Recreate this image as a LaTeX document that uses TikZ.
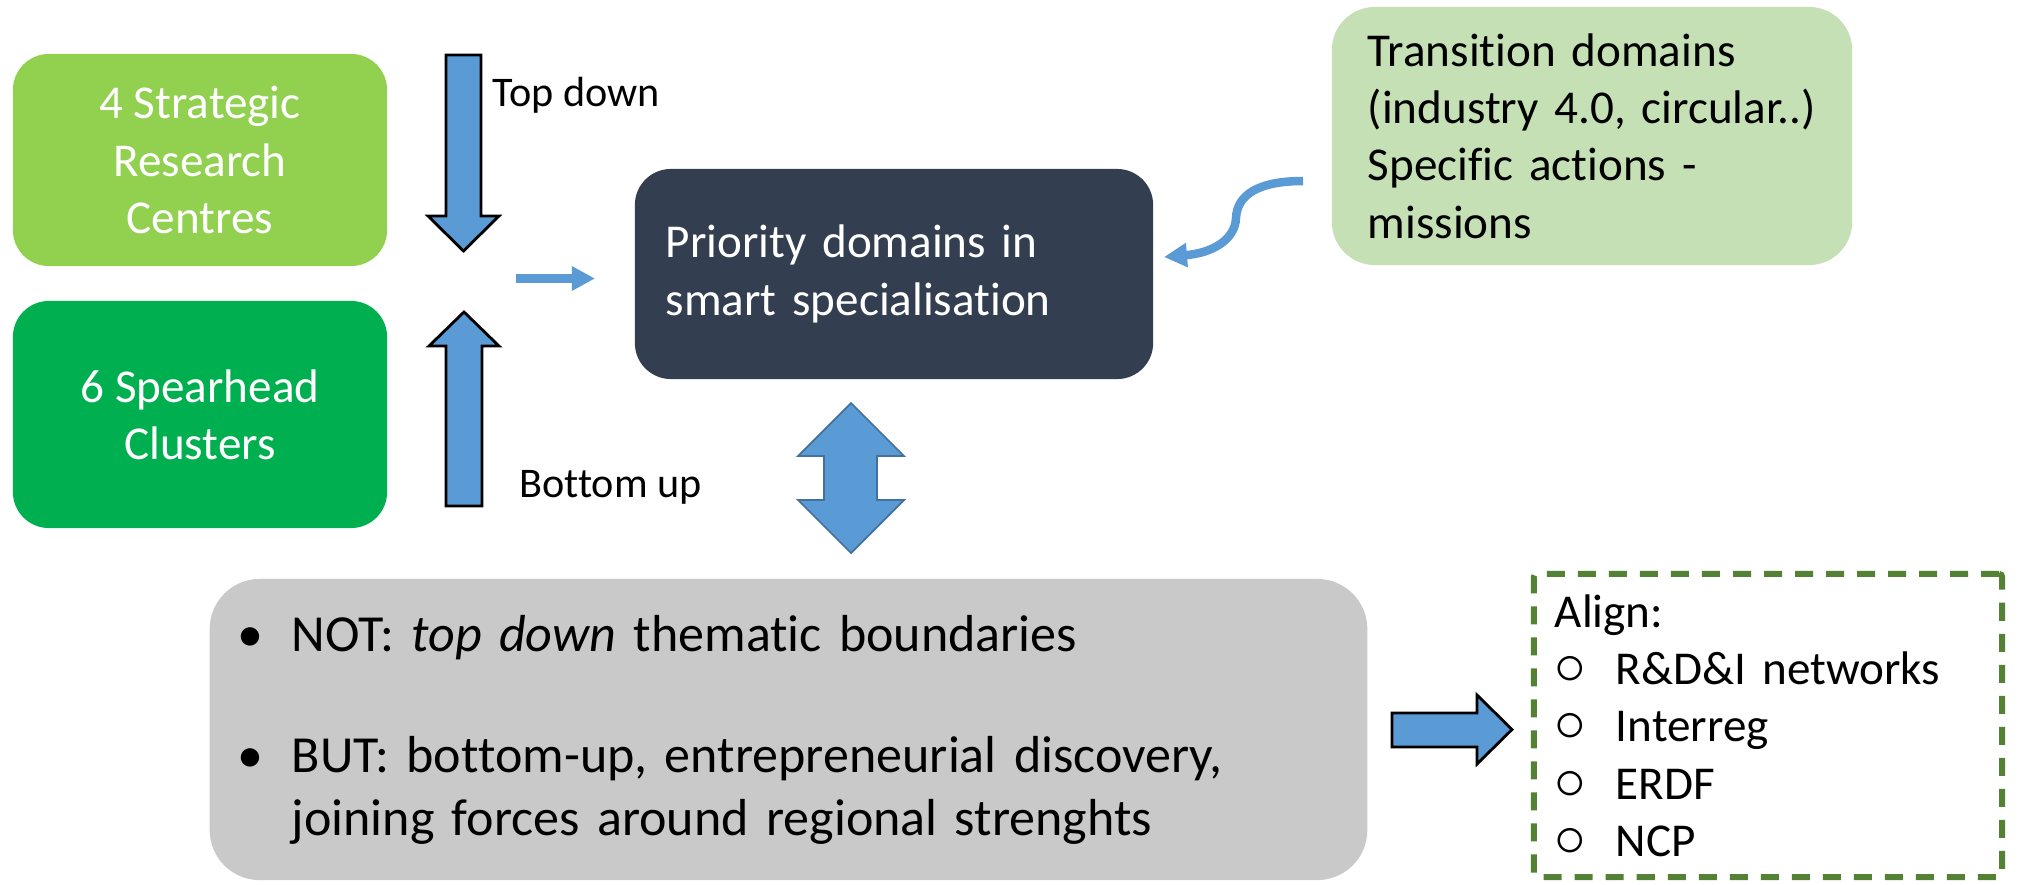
\documentclass[tikz,border=0pt]{standalone}
\usepackage{fontspec}
\setmainfont{Carlito}[Ligatures={NoCommon,NoContextual}]
\usetikzlibrary{arrows.meta}

\definecolor{srcgreen}{RGB}{146,208,80}
\definecolor{clustergreen}{RGB}{0,176,80}
\definecolor{darkslate}{RGB}{51,63,80}
\definecolor{paleleaf}{RGB}{197,224,180}
\definecolor{boxgray}{RGB}{201,201,201}
\definecolor{arrowblue}{RGB}{91,155,213}
\definecolor{arrowedge}{RGB}{65,113,156}
\definecolor{dashgreen}{RGB}{84,130,53}

\newcommand{\boxfont}{\fontsize{13.4pt}{16.3pt}\selectfont}
\newcommand{\bigfont}{\fontsize{14.8pt}{17.9pt}\selectfont}
\newcommand{\labelfont}{\fontsize{12pt}{14.6pt}\selectfont}
\newcommand{\obul}{\makebox[0.61cm][l]{\smash{\scalebox{1.25}{$\circ$}}}}
\newcommand{\dotbul}{\makebox[0.54cm][l]{\textbullet}}

\begin{document}
\begin{tikzpicture}[x=0.01cm, y=-0.01cm,
        roundbox/.style={rectangle, rounded corners=0.36cm, inner sep=0pt, font=\boxfont},
        blockarr/.style={fill=arrowblue, draw=black, line width=0.8pt, line join=miter},
        thinarr/.style={draw=arrowblue, line width=0.085cm, -{Triangle[length=0.23cm,width=0.23cm]}}]
        \useasboundingbox (0,0) rectangle (2018,884);

        % boxes
        \node[roundbox, fill=srcgreen, text=white, align=center, minimum width=3.74cm, minimum height=2.12cm] (src) at (200,160) {4 Strategic\\Research\\Centres};
        \node[roundbox, fill=clustergreen, text=white, align=center, minimum width=3.74cm, minimum height=2.27cm] (clusters) at (200,414.5) {6 Spearhead\\Clusters};
        \node[roundbox, fill=darkslate, text=white, text width=4.56cm, align=left, inner xsep=0.31cm, minimum height=2.1cm] (priority) at (894,274) {Priority domains in\\smart specialisation};
        \node[roundbox, fill=paleleaf, text width=4.48cm, align=left, inner xsep=0.36cm, minimum height=2.58cm, rounded corners=0.43cm] (transition) at (1592,136) {Transition domains\\(industry 4.0, circular..)\\Specific actions -\\missions};
        \node[roundbox, fill=boxgray, font=\bigfont, text width=11.01cm, align=left, inner xsep=0.28cm, minimum height=3.01cm, rounded corners=0.5cm] (themes) at (788.5,729.5) {\dotbul NOT: \textit{top down} thematic boundaries\\[0.58cm]\dotbul BUT: bottom-up, entrepreneurial discovery,\\\hspace*{0.54cm}joining forces around regional strenghts};
        \node[draw=dashgreen, line width=0.06cm, dash pattern=on 0.18cm off 0.13cm, rounded corners=0.03cm, text width=4.26cm, align=left, inner xsep=0.21cm, inner ysep=0pt, minimum height=3.03cm, font=\boxfont] (alignbox) at (1768,725.5) {Align:\\\obul R\&D\&I networks\\\obul Interreg\\\obul ERDF\\\obul NCP};

        % labels
        \node[anchor=base west, inner sep=0pt, font=\labelfont] (topdown) at (492,106.7) {Top down};
        \node[anchor=base west, inner sep=0pt, font=\labelfont] (bottomup) at (518.7,497.7) {Bottom up};

        % block arrows
        \draw[blockarr] (446,55) -- (481,55) -- (481,216) -- (499,216) -- (463.5,251) -- (428,216) -- (446,216) -- cycle;
        \draw[blockarr] (446,506) -- (482,506) -- (482,346) -- (499,346) -- (464,312) -- (429,346) -- (446,346) -- cycle;
        \draw[blockarr] (1392,713) -- (1477,713) -- (1477,695) -- (1512,729.5) -- (1477,764) -- (1477,747) -- (1392,747) -- cycle;
        \draw[fill=arrowblue, draw=arrowedge, line width=0.5pt] (851,403) -- (904,456) -- (877,456) -- (877,500) -- (904,500) -- (851,553) -- (798,500) -- (824,500) -- (824,456) -- (798,456) -- cycle;

        % thin arrows
        \coordinate (feedin) at (516,278.5);
        \coordinate (feedout) at (595,278.5);
        \coordinate (transout) at (1303,181);
        \coordinate (prioin) at (1164,257);
        \draw[thinarr] (feedin) -- (feedout);
        \draw[thinarr] (transout) .. controls (1258,181) and (1237,195) .. (1236,218) .. controls (1235,240) and (1212,253) .. (prioin);
\end{tikzpicture}
\end{document}
